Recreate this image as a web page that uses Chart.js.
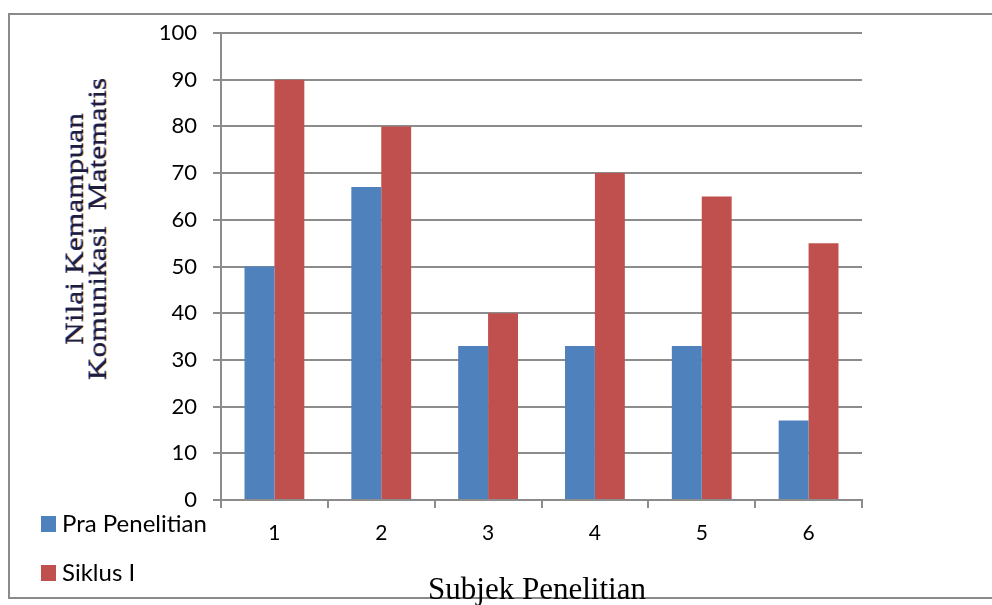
<!DOCTYPE html>
<html>
<head>
<meta charset="utf-8">
<script src="https://cdn.jsdelivr.net/npm/chart.js@4/dist/chart.umd.min.js"></script>
<style>
  html, body { margin: 0; padding: 0; background: #fff; }
  #wrap { width: 992px; height: 605px; position: relative; }
</style>
</head>
<body>
<div id="wrap"><canvas id="chart" width="992" height="605"></canvas></div>
<script>
// data
const subjects = ['1', '2', '3', '4', '5', '6'];
const praPenelitian = [50, 67, 33, 33, 33, 17];
const siklusI = [90, 80, 40, 70, 65, 55];
const yTicks = [0, 10, 20, 30, 40, 50, 60, 70, 80, 90, 100];

const seriesNames = ['Pra Penelitian', 'Siklus I'];
const seriesColors = ['#4F81BD', '#C0504D'];
const gridColor = '#8c8c8c';
const sansFont = 'Lato, "Open Sans", sans-serif';
const serifFont = '"Liberation Serif", "DejaVu Serif", serif';

// frame, axis titles and the stacked legend at bottom-left
const decorPlugin = {
  id: 'decor',
  afterDraw(chart) {
    const ctx = chart.ctx;
    ctx.save();

    // outer frame (no right edge visible)
    ctx.strokeStyle = '#8a8a8a';
    ctx.lineWidth = 2;
    ctx.beginPath();
    ctx.moveTo(1000, 14);
    ctx.lineTo(9, 14);
    ctx.lineTo(9, 598);
    ctx.lineTo(1000, 598);
    ctx.stroke();

    // y title, two rotated lines, a bit stretched, with the colour fringe
    const lines = [['Nilai Kemampuan', 76], ['Komunikasi  Matematis', 99]];
    ctx.font = '25px ' + serifFont;
    ctx.textAlign = 'center';
    ctx.textBaseline = 'middle';
    lines.forEach(([txt, x]) => {
      ctx.save();
      ctx.translate(x, 229);
      ctx.rotate(-Math.PI / 2);
      ctx.scale(1.26, 1);
      ctx.fillStyle = 'rgba(230,160,60,0.7)';
      ctx.fillText(txt, 0, 1);
      ctx.fillStyle = 'rgba(60,90,220,0.7)';
      ctx.fillText(txt, 0, -1);
      ctx.fillStyle = '#1e1e3c';
      ctx.fillText(txt, 0, 0);
      ctx.restore();
    });

    // x title
    ctx.font = '31px ' + serifFont;
    ctx.fillStyle = '#000';
    ctx.textAlign = 'center';
    ctx.textBaseline = 'alphabetic';
    ctx.fillText('Subjek Penelitian', 537, 599);

    // legend
    ctx.font = '24px ' + sansFont;
    ctx.textAlign = 'left';
    ctx.textBaseline = 'middle';
    chart.data.datasets.forEach((ds, i) => {
      const y = 524 + i * 49;
      ctx.fillStyle = ds.backgroundColor;
      ctx.fillRect(41, y - 8, 15, 16);
      ctx.fillStyle = '#000';
      ctx.fillText(ds.label, 62, y);
    });

    ctx.restore();
  }
};

new Chart(document.getElementById('chart').getContext('2d'), {
  type: 'bar',
  data: {
    labels: subjects,
    datasets: [
      { label: seriesNames[0], data: praPenelitian, backgroundColor: seriesColors[0] },
      { label: seriesNames[1], data: siklusI, backgroundColor: seriesColors[1] }
    ]
  },
  options: {
    responsive: false,
    animation: false,
    layout: { padding: { left: 0, right: 130, top: 33, bottom: 0 } },
    datasets: { bar: { barPercentage: 1, categoryPercentage: 0.56 } },
    scales: {
      x: {
        grid: { drawOnChartArea: false, drawTicks: true, tickLength: 8, color: gridColor, lineWidth: 2 },
        border: { color: gridColor, width: 2 },
        ticks: { color: '#000', font: { family: sansFont, size: 21 }, padding: 13 },
        afterFit(scale) { scale.height = 105; }
      },
      y: {
        min: 0,
        max: 100,
        afterBuildTicks(scale) { scale.ticks = yTicks.map(v => ({ value: v })); },
        grid: { color: gridColor, lineWidth: 2, tickLength: 8 },
        border: { color: gridColor, width: 2 },
        ticks: { color: '#000', font: { family: sansFont, size: 22 }, padding: 16 },
        afterFit(scale) { scale.width = 221; }
      }
    },
    plugins: {
      legend: { display: false },
      tooltip: { enabled: false }
    }
  },
  plugins: [decorPlugin]
});
</script>
</body>
</html>
